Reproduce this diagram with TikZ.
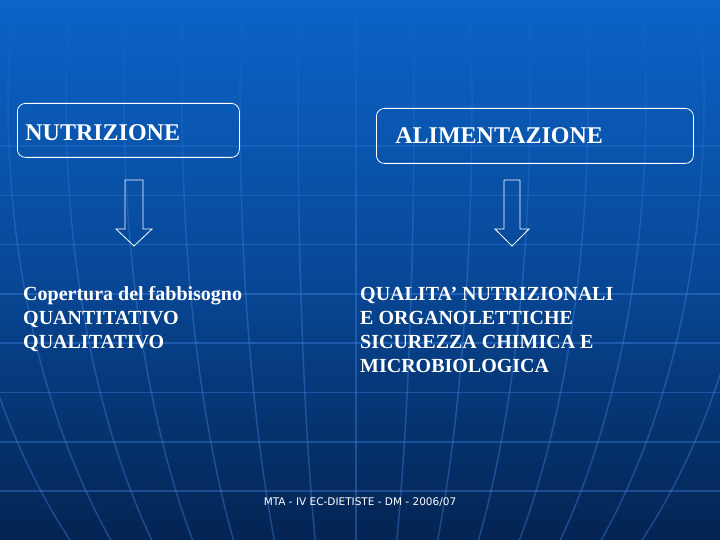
\documentclass[tikz,border=0pt]{standalone}
\usepackage{fontspec}
\setmainfont{Liberation Serif}
\newfontfamily\footfont{DejaVu Sans}
\usetikzlibrary{fadings}

\definecolor{bgtop}{RGB}{11,100,200}
\definecolor{bgmid}{RGB}{8,72,152}
\definecolor{bgbot}{RGB}{4,36,82}
\definecolor{gridblue}{RGB}{70,140,235}

\tikzfading[name=gridfade, top color=transparent!10, bottom color=transparent!100]

\tikzset{
  headbox/.style={draw=white, line width=0.8pt, rounded corners=8pt, text=white,
    font=\fontsize{24}{28}\selectfont\bfseries, align=left, inner ysep=0pt,
    text depth=0pt, anchor=north west},
  blockarrow/.style={draw=white, line width=0.8pt, line join=miter},
  bodytext/.style={text=white, font=\fontsize{20}{24}\selectfont\bfseries,
    align=left, inner sep=0pt, anchor=north west},
  gridline/.style={gridblue, opacity=0.36, line width=1.5pt}
}

\begin{document}
\begin{tikzpicture}[x=1pt, y=1pt]
  % background with globe grid
  \shade[top color=bgtop, bottom color=bgbot, middle color=bgmid] (0,0) rectangle (720,-540);
  \begin{scope}
    \clip (0,0) rectangle (720,-540);
    \foreach \k in {0,...,8}
      \draw[gridline] (0,-146-49.3*\k) -- (720,-146-49.3*\k);
    \draw[gridline] (356,0) -- (356,-540);
    \foreach \k in {1,...,7}
      \draw[gridline] (356,-100) ellipse ({58*\k} and 620);
  \end{scope}
  % grid fades out towards the top
  \shade[top color=bgtop, bottom color=bgmid, path fading=gridfade] (0,0) rectangle (720,-270);
  \useasboundingbox (0,0) rectangle (720,-540);

  % boxes
  \node[headbox, inner xsep=8pt, text width=206pt, minimum height=54pt,
    text height=21pt] (nutr) at (17,-103) {NUTRIZIONE};
  \node[headbox, inner xsep=19pt, text width=279pt, minimum height=55pt,
    text height=16pt] (alim) at (376,-108) {ALIMENTAZIONE};

  % block arrows
  \coordinate (arrN) at (134,-180);
  \coordinate (arrA) at (512,-180);
  \draw[blockarrow] (arrN) ++(-9,0) -- ++(0,-49) -- ++(-9,0) -- ++(18,-17)
    -- ++(18,17) -- ++(-9,0) -- ++(0,49) -- cycle;
  \draw[blockarrow] (arrA) ++(-8,0) -- ++(0,-49) -- ++(-9,0) -- ++(17,-17)
    -- ++(17,17) -- ++(-9,0) -- ++(0,49) -- cycle;

  % texts
  \node[bodytext] (needs) at (23,-286.5)
    {Copertura del fabbisogno\\QUANTITATIVO\\QUALITATIVO};
  \node[bodytext] (quality) at (360,-286.5)
    {QUALITA’ NUTRIZIONALI\\E ORGANOLETTICHE\\SICUREZZA CHIMICA E\\MICROBIOLOGICA};

  \node[text=white, font=\footfont\fontsize{10.5}{12}\selectfont, anchor=base]
    (foot) at (360,-505.5) {MTA - IV EC-DIETISTE - DM - 2006/07};
\end{tikzpicture}
\end{document}
